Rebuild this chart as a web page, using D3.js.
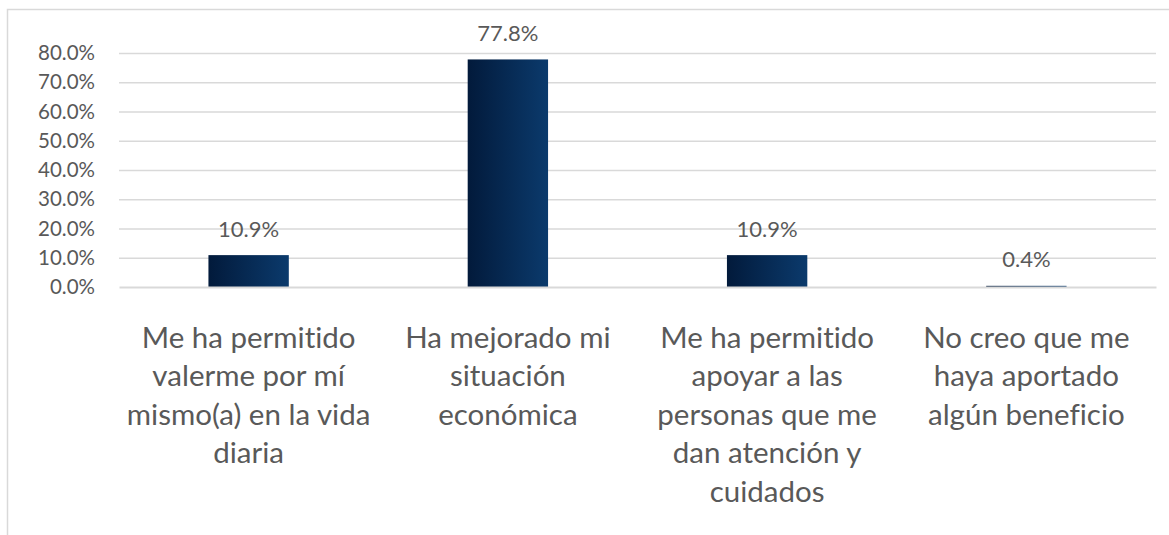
<html>
<head>
  <meta charset="utf-8">
  <script src="https://d3js.org/d3.v7.min.js"></script>
  <style>
    body { margin: 0; background: #fff; }
    text { font-family: Lato, "Open Sans", sans-serif; fill: #595959; font-variant-ligatures: none; }
  </style>
</head>
<body>
  <svg id="chart" width="1169" height="535"></svg>
  <script>
    // categories (line breaks as in the original axis labels)
    var categories = [
      "Me ha permitido\nvalerme por mí\nmismo(a) en la vida\ndiaria",
      "Ha mejorado mi\nsituación\neconómica",
      "Me ha permitido\napoyar a las\npersonas que me\ndan atención y\ncuidados",
      "No creo que me\nhaya aportado\nalgún beneficio"
    ];
    var values = [0.109, 0.778, 0.109, 0.004];
    var yTicks = [0, 0.1, 0.2, 0.3, 0.4, 0.5, 0.6, 0.7, 0.8];

    var svg = d3.select("#chart");
    var margin = {top: 53, left: 119, right: 13, bottom: 248},
        width = +svg.attr("width") - margin.left - margin.right,
        height = +svg.attr("height") - margin.top - margin.bottom;

    // chart area border (only top and left visible in the crop)
    svg.append("path")
        .attr("d", "M7.5,535 V9.5 H1169")
        .attr("fill", "none")
        .attr("stroke", "#d9d9d9")
        .attr("stroke-width", 1.5);

    var defs = svg.append("defs");
    var grad = defs.append("linearGradient").attr("id", "barGrad")
        .attr("x1", "0%").attr("x2", "100%").attr("y1", "0%").attr("y2", "0%");
    grad.append("stop").attr("offset", "0%").attr("stop-color", "#021a3b");
    grad.append("stop").attr("offset", "100%").attr("stop-color", "#0b3a6c");

    var x = d3.scaleBand().domain(categories).range([0, width]).paddingInner(0.69).paddingOuter(0.345);
    var y = d3.scaleLinear().domain([0, 0.8]).range([height, 0]);

    var g = svg.append("g").attr("transform", "translate(" + margin.left + "," + margin.top + ")");

    // gridlines (the 0% line is drawn later, over the bars, like the category axis)
    g.append("g")
        .call(d3.axisLeft(y).tickValues(yTicks.slice(1)).tickSize(-width).tickFormat(""))
        .call(s => s.select(".domain").remove())
        .call(s => s.selectAll("line").attr("stroke", "#d9d9d9").attr("stroke-width", 1.5));

    // y tick labels
    g.append("g")
        .call(d3.axisLeft(y).tickValues(yTicks).tickSize(0).tickPadding(24).tickFormat(d3.format(".1%")))
        .call(s => s.select(".domain").remove())
        .call(s => s.selectAll("text").attr("fill", "#595959").style("font-size", "20.5px")
            .style("font-family", "Lato, 'Open Sans', sans-serif"));

    // bars
    g.selectAll(".bar")
      .data(values)
      .enter().append("rect")
        .attr("class", "bar")
        .attr("x", (d, i) => x(categories[i]))
        .attr("width", x.bandwidth())
        .attr("y", d => y(d))
        .attr("height", d => height - y(d))
        .attr("fill", "url(#barGrad)");

    // category axis line
    g.append("g").attr("transform", "translate(0," + height + ")")
        .call(d3.axisBottom(x).tickSize(0).tickFormat(""))
        .call(s => s.select(".domain").attr("stroke", "#d9d9d9").attr("stroke-width", 2));

    // data labels
    g.selectAll(".lbl")
      .data(values)
      .enter().append("text")
        .attr("class", "lbl")
        .attr("x", (d, i) => x(categories[i]) + x.bandwidth() / 2)
        .attr("y", d => y(d) - 18.5)
        .attr("text-anchor", "middle")
        .style("font-size", "22px")
        .text(d => d3.format(".1%")(d));

    // category labels
    var cat = g.append("g").attr("transform", "translate(0," + height + ")")
      .selectAll("text")
      .data(categories)
      .enter().append("text")
        .attr("text-anchor", "middle")
        .attr("x", d => x(d) + x.bandwidth() / 2)
        .attr("y", 61)
        .style("font-size", "29.5px");
    cat.selectAll("tspan")
      .data(d => d.split("\n"))
      .enter().append("tspan")
        .attr("x", function() { return d3.select(this.parentNode).attr("x"); })
        .attr("dy", (d, i) => i === 0 ? 0 : 38.4)
        .text(d => d);
  </script>
</body>
</html>
